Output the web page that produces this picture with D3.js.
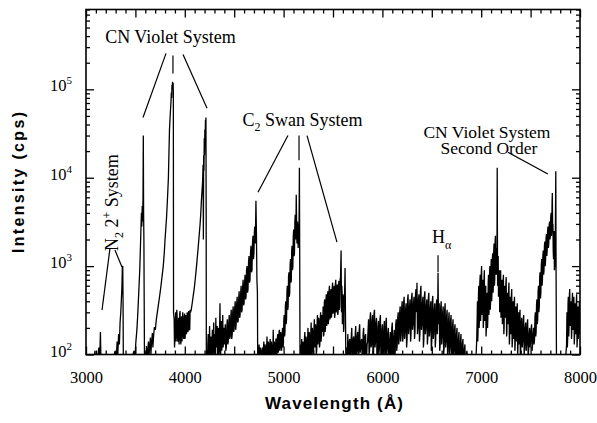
<!DOCTYPE html>
<html>
<head>
<meta charset="utf-8">
<script src="https://cdn.jsdelivr.net/npm/d3@7"></script>
<style>
  body { margin: 0; background: #fff; }
</style>
</head>
<body>
<div id="chart"></div>
<script>
// spectrum, [wavelength (A), intensity (cps)]
// values under 100 cps sit below the axis and get clipped
var n2Band = [
  [3000,70],[3020,85],[3040,70],[3060,95],[3075,70],[3090,110],[3100,75],[3115,90],[3130,120],[3138,80],
  [3146,180],[3152,75],[3170,90],[3190,70],[3210,100],[3225,75],[3240,85],[3260,70],[3280,95],[3295,110],
  [3305,85],[3315,140],[3322,100],[3330,170],[3338,130],[3345,230],[3352,300],[3358,420],[3364,600],[3368,980],
  [3372,1000],[3375,400],[3378,80],[3395,90],[3410,70],[3430,85],[3450,70],[3470,95],[3485,110],[3495,90],[3505,140]
];

var cnBand = [
  [3515,190],[3522,260],[3530,400],[3537,600],[3544,900],[3550,1500],[3556,2600],[3561,4000],[3565,2800],[3569,4800],
  [3573,3200],[3577,6000],[3580,30000],[3583,4000],[3586,2000],[3589,400],[3592,80],
  [3602,90],[3607,70],[3612,125],[3617,80],[3622,100],[3632,140],[3637,90],[3642,115],[3652,155],[3657,100],[3662,130],
  [3672,175],[3677,120],[3682,150],[3692,205],[3702,190],[3712,250],[3722,300],[3732,360],[3742,430],[3752,520],
  [3762,640],[3772,800],[3782,1000],[3792,1400],[3800,2000],[3808,2700],[3815,3500],[3822,5000],[3828,7000],
  [3834,10000],[3840,20000],[3845,35000],[3850,45000],[3855,58000],[3860,72000],[3864,92000],[3867,80000],
  [3870,112000],[3873,100000],[3876,122000],[3879,110000],[3882,118000],[3884,90000],[3886,300],
  [3892,250],[3896,120],[3900,150],[3904,230],[3908,300],[3912,140],[3915,180],[3919,320],[3922,280],[3926,160],
  [3930,140],[3934,220],[3938,260],[3942,130],[3945,170],[3949,290],[3952,310],[3956,150],[3960,130],[3964,240],
  [3968,270],[3972,140],[3975,190],[3979,300],[3982,240],[3986,160],[3990,150],[3994,260],[3998,290],[4002,150],
  [4005,170],[4009,280],[4012,250],[4016,170],[4020,180],[4024,300],[4028,280],[4032,180],[4035,200],[4039,310],
  [4042,260],[4046,190],[4050,190],[4054,320],[4058,300],
  [4065,320],[4075,380],[4085,460],[4095,550],[4105,700],[4115,900],[4125,1200],[4135,1600],[4145,2200],[4155,3000],
  [4162,4000],[4168,5500],[4174,7000],[4180,9000],[4185,14000],[4188,2000],[4191,18000],[4194,12000],[4197,28000],
  [4200,18000],[4203,35000],[4206,25000],[4209,45000],[4212,38000],[4214,48000],[4216,5000],[4218,90]
];

var swanBand = [
  [4224,110],[4230,80],[4233,130],[4237,170],[4241,90],[4244,100],[4251,210],[4254,95],[4258,110],[4265,160],
  [4268,80],[4272,90],[4279,190],[4283,100],[4286,120],[4293,230],[4296,110],[4300,100],[4307,170],[4310,90],
  [4314,260],[4318,120],[4321,130],[4328,210],[4331,100],[4335,120],[4342,200],[4345,95],[4349,110],[4356,380],
  [4360,120],[4363,100],[4370,240],[4374,110],[4377,130],[4384,280],[4388,120],[4391,140],[4395,200],
  [4400,130],[4405,170],[4410,220],[4415,110],[4420,120],[4425,200],[4430,250],[4435,130],[4440,140],[4445,230],
  [4450,280],[4455,150],[4460,160],[4465,260],[4470,320],[4475,150],[4480,170],[4485,300],[4490,350],[4495,180],
  [4500,200],[4505,330],[4510,400],[4515,190],[4520,220],[4525,380],[4530,450],[4535,230],[4540,240],[4545,420],
  [4550,520],[4555,260],[4560,280],[4565,480],[4570,600],[4575,300],[4580,320],[4585,560],[4590,700],[4595,360],
  [4600,380],[4605,650],[4610,800],[4615,420],[4620,450],[4625,900],[4630,1000],[4635,500],[4640,550],[4645,1100],
  [4650,1300],[4655,650],[4660,700],[4665,1400],[4670,1700],[4675,850],[4680,900],[4685,1800],[4690,2200],[4695,1200],
  [4700,1400],[4704,2400],[4708,2800],[4714,1800],[4720,5500],[4725,2400],[4730,700],[4735,500],[4738,80],
  [4745,90],[4749,110],[4752,130],[4756,85],[4760,80],[4764,120],[4768,110],[4772,80],[4776,75],[4780,105],
  [4784,120],[4788,80],[4792,85],[4796,115],[4800,140],[4804,90],[4808,90],[4812,130],[4816,120],[4820,85],
  [4824,80],[4828,120],[4832,160],[4836,90],[4840,100],[4844,140],[4848,130],[4852,85],[4856,90],[4860,130],
  [4864,150],[4868,90],[4872,95],[4876,140],[4880,125],[4884,80],[4888,85],[4892,120],[4895,190],[4899,85],
  [4902,90],[4906,140],[4910,130],[4914,90],[4918,100],[4922,150],[4926,150],[4930,95],[4934,110],[4938,160],
  [4942,170],[4946,105],[4950,120],[4954,180],[4958,190],[4962,110],[4966,120],[4970,180],[4974,160],
  [4980,110],[4985,170],[4990,200],[4994,120],[4998,130],[5002,240],[5006,280],[5010,160],[5014,180],[5018,350],
  [5022,400],[5026,220],[5030,250],[5034,520],[5038,600],[5042,320],[5046,350],[5050,760],[5054,850],[5058,450],
  [5062,500],[5066,1050],[5070,1200],[5074,650],[5078,700],[5082,1500],[5086,1700],[5090,900],[5094,1000],
  [5098,2200],[5102,2600],[5106,1300],[5110,1400],[5114,3200],[5118,3800],[5121,2000],[5124,2200],[5128,6400],
  [5132,3000],[5135,1800],[5138,2200],[5141,3200],[5144,2800],[5147,1600],[5150,1900],[5153,2800],[5156,2400],
  [5160,13000],[5163,1500],[5166,90],
  [5171,130],[5175,100],[5179,85],[5183,150],[5187,95],[5191,85],[5195,140],[5199,130],[5203,80],[5207,95],
  [5211,150],[5215,180],[5219,90],[5223,100],[5227,160],[5231,140],[5235,80],[5239,85],[5243,150],[5247,200],
  [5251,95],[5255,110],[5259,180],[5263,160],[5267,90],[5271,95],[5275,170],[5279,230],[5283,100],[5287,120],
  [5291,200],[5295,170],[5299,95],[5303,100],[5307,190],[5311,250],[5315,120],[5319,130],[5323,220],[5327,200],
  [5331,100],[5335,110],[5339,230],[5343,280],[5347,130],[5351,150],[5355,260],[5359,220],[5363,120],[5367,130],
  [5371,250],[5375,300],[5379,140],[5383,160],[5387,280],
  [5392,180],[5396,200],[5400,350],[5404,160],[5408,170],[5412,380],[5416,420],[5420,180],[5424,200],[5428,400],
  [5432,480],[5436,210],[5440,230],[5444,460],[5448,520],[5452,220],[5456,250],[5460,520],[5464,600],[5468,250],
  [5472,270],[5476,480],[5480,550],[5484,260],[5488,300],[5492,560],[5496,650],[5500,290],[5504,320],[5508,540],
  [5512,600],[5516,260],[5520,280],[5524,620],[5528,700],[5532,300],[5536,330],[5540,580],[5544,620],[5548,280],
  [5552,300],[5556,600],[5560,680],[5564,320],[5568,350],[5572,700],[5576,750],[5582,1500],[5586,300],[5589,600],
  [5592,500],[5595,220],[5598,250],[5601,480],[5604,450],[5607,180],[5610,200],[5613,420],[5616,400],[5622,950],
  [5626,300],[5630,90]
];

var redBand = [
  [5635,100],[5640,120],[5645,85],[5650,170],[5655,100],[5660,95],[5665,140],[5670,150],[5675,90],[5680,100],
  [5685,160],[5690,200],[5695,95],[5700,110],[5705,150],[5710,160],[5715,85],[5720,90],[5725,170],[5730,210],
  [5735,100],[5740,110],[5745,160],[5750,180],[5755,90],[5760,95],[5765,190],[5770,220],[5775,105],[5780,120],
  [5785,140],[5790,150],[5795,85],[5800,90],[5805,170],[5810,200],[5815,95],[5820,100],[5825,160],[5830,170],
  [5835,80],[5840,85],[5845,130],[5850,140],[5855,190],[5860,250],[5865,100],[5870,110],[5875,260],[5880,300],
  [5885,120],[5890,130],[5895,240],[5900,280],[5905,90],[5910,100],[5915,290],[5920,320],[5925,120],[5930,140],
  [5935,230],[5940,260],[5945,85],[5950,95],[5955,200],[5960,240],[5965,100],[5970,120],[5975,250],[5980,280],
  [5985,90],[5990,100],[5995,190],[6000,220],
  [6005,95],[6010,110],[6015,200],[6020,240],[6025,80],[6030,90],[6035,230],[6040,260],[6045,100],[6050,120],
  [6055,170],[6060,200],[6065,75],[6070,85],[6075,150],[6080,180],[6085,90],[6090,100],[6095,200],[6100,230],
  [6105,80],[6110,90],[6115,160],[6120,190],[6125,95],[6130,110],[6135,220],[6140,250],[6145,110],[6150,130],
  [6155,260],[6160,300],[6165,130],[6170,150],[6175,300],[6180,350],[6185,140],[6190,170],[6195,330],
  [6200,400],[6205,140],[6210,160],[6215,390],[6220,450],[6225,150],[6230,180],[6235,320],[6240,380],[6245,120],
  [6250,150],[6255,420],[6260,480],[6265,170],[6270,200],[6275,360],[6280,420],[6285,140],[6290,170],[6295,440],
  [6300,500],[6305,190],[6310,220],[6315,380],[6320,450],[6325,150],[6330,180],[6335,480],[6340,550],[6345,300],
  [6350,650],[6355,170],[6360,200],[6365,420],[6370,480],[6375,140],[6380,170],[6385,520],[6390,600],[6395,190],
  [6400,220],[6405,380],[6410,450],[6415,120],[6420,150],[6425,460],[6430,520],[6435,170],[6440,200],[6445,360],
  [6450,420],[6455,130],[6460,160],[6465,430],[6470,500],[6475,160],[6480,190],[6485,340],[6490,400],[6495,110],
  [6500,140],[6505,400],[6510,460],[6515,150],[6520,180],[6525,320],[6530,380],[6535,120],[6540,150],[6545,360],
  [6550,420],[6555,170],[6558,200],[6563,840],[6568,220],[6572,330],[6575,380],[6580,110],
  [6585,130],[6590,340],[6595,400],[6600,130],[6605,160],[6610,300],[6615,350],[6620,100],[6625,120],[6630,320],
  [6635,380],[6640,120],[6645,140],[6650,270],[6655,320],[6660,90],[6665,110],[6670,250],[6675,300],[6680,100],
  [6685,120],[6690,240],[6695,280],[6700,85],[6705,100],[6710,210],[6715,250],[6720,95],[6725,110],[6730,190],
  [6735,220],[6740,80],[6745,90],[6750,170],[6755,200],[6760,85],[6765,100],[6770,150],[6775,180],[6780,75],
  [6785,85],[6790,140],[6795,170],[6800,70],[6805,80],[6810,130],[6815,150],[6820,70],[6825,80],[6830,115],
  [6835,130],[6840,65],[6845,70],[6850,100],[6855,110],
  [6870,70],[6890,90],[6910,70],[6930,100],[6945,80]
];

var secondOrderBand = [
  [6955,150],[6959,250],[6962,400],[6965,140],[6968,180],[6972,450],[6975,600],[6979,200],[6982,250],[6986,650],
  [6990,800],[6994,240],[6997,300],[7001,850],[7004,1000],[7008,280],[7011,350],[7015,600],[7018,700],[7021,200],
  [7025,250],[7029,750],[7032,900],[7035,240],[7039,300],[7043,500],[7046,600],[7049,160],[7053,200],[7057,420],
  [7060,500],[7064,200],[7067,250],[7071,650],[7074,800],[7078,280],[7081,350],[7085,850],[7088,1000],[7092,320],
  [7095,400],[7099,1000],[7102,1200],[7106,400],[7109,500],[7113,1200],[7116,1400],[7120,500],[7123,600],
  [7127,1500],[7130,1800],[7134,600],[7137,700],[7141,1900],[7144,2200],[7147,800],[7150,900],[7153,1400],
  [7156,1600],[7159,800],[7162,13000],[7166,600],[7169,1000],[7172,1300],[7175,450],[7178,500],[7181,750],[7184,900],
  [7187,300],[7190,350],[7194,750],[7197,900],[7200,260],[7204,300],[7208,600],[7211,700],[7214,220],[7218,250],
  [7222,650],[7225,800],[7229,170],[7232,200],[7236,500],[7239,600],[7243,260],[7246,300],[7250,650],[7253,750],
  [7257,160],[7260,180],[7264,420],[7267,500],[7271,220],[7274,250],[7278,550],[7281,650],[7285,130],[7288,150],
  [7292,380],[7295,450],[7299,170],[7302,200],[7306,480],[7309,550],[7313,120],[7316,140],[7320,340],[7323,400],
  [7327,150],[7330,180],[7334,380],[7337,450],[7341,110],[7344,130],[7348,300],[7351,350],[7355,140],[7358,160],
  [7362,320],[7365,380],[7369,100],[7372,120],[7376,260],[7379,300],[7383,130],[7386,150],[7390,280],[7393,320],
  [7396,95],[7400,110],[7405,230],[7410,260],[7415,120],[7420,140],[7425,240],[7430,280],[7435,100],[7440,120],
  [7445,200],[7450,230],[7455,110],[7460,130],[7465,220],[7470,250],[7475,95],[7480,110],[7485,170],[7490,200],
  [7495,120],[7500,140],[7505,190],[7510,220],[7515,110],[7520,130],[7525,170],[7530,200],[7535,130],
  [7540,150],[7544,260],[7548,300],[7552,160],[7556,180],[7560,360],[7564,420],[7568,220],[7572,250],[7576,520],
  [7580,600],[7584,300],[7588,350],[7592,750],[7596,850],[7600,430],[7604,500],[7608,1000],[7612,1200],[7616,600],
  [7620,700],[7624,1300],[7628,1500],[7632,800],[7636,900],[7640,1700],[7644,1900],[7648,1000],[7652,1200],
  [7656,2000],[7660,2300],[7664,1300],[7668,1500],[7672,2500],[7676,2800],[7680,1600],[7684,1800],[7688,2900],
  [7692,3200],[7696,2000],[7700,2200],[7704,3600],[7708,4000],[7711,2200],[7714,2500],[7717,5000],[7720,6700],
  [7723,2600],[7726,3000],[7729,1500],[7732,1200],[7735,2000],[7738,2500],[7741,900],[7744,1000],[7747,1500],
  [7750,1800],[7755,11800],[7758,800],[7762,80],
  [7770,70],[7790,90],[7810,70],[7830,85],[7850,75],[7860,110],
  [7864,130],[7868,300],[7872,120],[7875,150],[7879,380],[7882,450],[7886,160],[7889,200],[7893,480],[7896,550],
  [7900,210],[7903,250],[7907,350],[7910,400],[7914,150],[7917,180],[7921,420],[7924,500],[7928,190],[7931,220],
  [7935,380],[7938,450],[7942,130],[7945,160],[7949,320],[7952,380],[7956,170],[7959,200],[7963,400],[7966,480],
  [7970,120],[7973,150],[7977,300],[7980,350],[7984,150],[7987,180],[7991,340],[7994,400],[7997,170],[8000,200]
];

// tick labels
var xLabels = [3000, 4000, 5000, 6000, 7000, 8000];
var yDecades = [100, 1000, 10000, 100000];

// leader lines from the labels to the bands, [wavelength, cps] ends
var leaderLines = [
  [[3810, 2.55e5], [3577, 4.8e4]],
  [[3880, 2.42e5], [3880, 1.51e5]],
  [[3982, 2.48e5], [4225, 6.1e4]],
  [[5044, 3.0e4], [4741, 6850]],
  [[5156, 3.0e4], [5156, 15800]],
  [[5237, 3.0e4], [5540, 1870]],
  [[7271, 1.94e4], [7675, 1.1e4]],
  [[3243, 1600], [3162, 318]],
  [[3293, 1520], [3364, 975]],
  [[6563, 1330], [6563, 855]]
];

var spectrum = n2Band.concat(cnBand, swanBand, redBand, secondOrderBand);

// set the dimensions and margins of the graph
var margin = {top: 9.5, right: 17, bottom: 68.5, left: 86},
    width = 597 - margin.left - margin.right,
    height = 423 - margin.top - margin.bottom;

var serif = "'Liberation Serif', 'Times New Roman', serif",
    sans = "'Liberation Sans', Arial, sans-serif";

var svg = d3.select("#chart")
  .append("svg")
    .attr("width", width + margin.left + margin.right)
    .attr("height", height + margin.top + margin.bottom)
  .append("g")
    .attr("transform", "translate(" + margin.left + "," + margin.top + ")");

var x = d3.scaleLinear()
  .domain([3000, 8000])
  .range([0, width]);

var y = d3.scaleLog()
  .domain([100, 8e5])
  .range([height, 0]);

// clip the trace to the frame
svg.append("clipPath")
    .attr("id", "plotClip")
  .append("rect")
    .attr("width", width)
    .attr("height", height);

var line = d3.line()
  .x(function(d) { return x(d[0]); })
  .y(function(d) { return y(Math.max(d[1], 50)); });

svg.append("path")
  .datum(spectrum)
  .attr("clip-path", "url(#plotClip)")
  .attr("fill", "none")
  .attr("stroke", "#000")
  .attr("stroke-width", 1.3)
  .attr("stroke-linejoin", "bevel")
  .attr("d", line);

// ticks, all pointing inward
var majorX = d3.range(3000, 8001, 500),
    minorX = d3.range(3000, 8001, 100).filter(function(d) { return d % 500 !== 0; });

var minorY = [];
yDecades.forEach(function(dec) {
  for (var k = 2; k <= 9; k++) {
    if (k * dec <= 8e5) minorY.push(k * dec);
  }
});

function styleAxis(g) {
  g.select(".domain").remove();
  g.selectAll(".tick line").attr("stroke", "#000").attr("stroke-width", 1.3);
}

svg.append("g")
  .attr("transform", "translate(0," + height + ")")
  .call(d3.axisBottom(x).tickValues(majorX).tickSize(-8).tickPadding(17)
    .tickFormat(function(d) { return xLabels.indexOf(d) >= 0 ? d : ""; }))
  .call(styleAxis)
  .attr("font-family", null)
  .call(function(g) {
    g.selectAll("text")
      .style("font-family", serif)
      .style("font-size", "16.5px")
      .attr("fill", "#000");
  });

svg.append("g")
  .attr("transform", "translate(0," + height + ")")
  .call(d3.axisBottom(x).tickValues(minorX).tickSize(-4).tickFormat(""))
  .call(styleAxis);

svg.append("g")
  .call(d3.axisTop(x).tickValues(majorX).tickSize(-8).tickFormat(""))
  .call(styleAxis);

svg.append("g")
  .call(d3.axisTop(x).tickValues(minorX).tickSize(-4).tickFormat(""))
  .call(styleAxis);

svg.append("g")
  .call(d3.axisLeft(y).tickValues(yDecades).tickSize(-8).tickFormat(""))
  .call(styleAxis);

svg.append("g")
  .call(d3.axisLeft(y).tickValues(minorY).tickSize(-4).tickFormat(""))
  .call(styleAxis);

svg.append("g")
  .attr("transform", "translate(" + width + ",0)")
  .call(d3.axisRight(y).tickValues(yDecades).tickSize(-8).tickFormat(""))
  .call(styleAxis);

svg.append("g")
  .attr("transform", "translate(" + width + ",0)")
  .call(d3.axisRight(y).tickValues(minorY).tickSize(-4).tickFormat(""))
  .call(styleAxis);

// y labels as 10^n
var yLab = svg.selectAll(".ylab")
  .data(yDecades)
  .enter()
  .append("text")
    .attr("class", "ylab")
    .attr("x", -14)
    .attr("y", function(d) { return y(d) + 2; })
    .attr("text-anchor", "end")
    .style("font-family", serif)
    .style("font-size", "16.5px")
    .text("10");
yLab.append("tspan")
  .style("font-size", "11px")
  .attr("dy", -7)
  .text(function(d) { return Math.round(Math.log10(d)); });

// frame
svg.append("rect")
  .attr("width", width)
  .attr("height", height)
  .attr("fill", "none")
  .attr("stroke", "#000")
  .attr("stroke-width", 1.6);

// axis titles
svg.append("text")
  .attr("x", 334 - margin.left)
  .attr("y", height + 54)
  .attr("text-anchor", "middle")
  .style("font-family", sans)
  .style("font-weight", "bold")
  .style("font-size", "17px")
  .attr("textLength", 138)
  .attr("lengthAdjust", "spacing")
  .text("Wavelength  (Å)");

svg.append("text")
  .attr("transform", "translate(-62," + (182.5 - margin.top) + ") rotate(-90)")
  .attr("text-anchor", "middle")
  .style("font-family", sans)
  .style("font-weight", "bold")
  .style("font-size", "16px")
  .attr("textLength", 141)
  .attr("lengthAdjust", "spacing")
  .text("Intensity  (cps)");

// leader lines
svg.selectAll(".leader")
  .data(leaderLines)
  .enter()
  .append("line")
    .attr("class", "leader")
    .attr("x1", function(d) { return x(d[0][0]); })
    .attr("y1", function(d) { return y(d[0][1]); })
    .attr("x2", function(d) { return x(d[1][0]); })
    .attr("y2", function(d) { return y(d[1][1]); })
    .attr("stroke", "#000")
    .attr("stroke-width", 1.2);

// band labels
function label(lam, cps, anchor, size) {
  return svg.append("text")
    .attr("x", x(lam))
    .attr("y", y(cps))
    .attr("text-anchor", anchor)
    .style("font-family", serif)
    .style("font-size", (size || 18) + "px")
    .attr("fill", "#000");
}

label(3855, 3.3e5, "middle").text("CN Violet System");

var swan = label(5191, 3.85e4, "middle").text("C");
swan.append("tspan").style("font-size", "12px").attr("dy", 5).text("2");
swan.append("tspan").attr("dy", -5).text(" Swan System");

label(7058, 2.81e4, "middle", 17.5).text("CN Violet System");
label(7078, 1.85e4, "middle", 17.5).text("Second Order");

var ha = label(6502, 1820, "start").text("H");
ha.append("tspan").style("font-size", "12px").attr("dy", 6).text("α");

var n2 = svg.append("text")
  .attr("transform", "translate(" + x(3324) + "," + y(1480) + ") rotate(-90)")
  .style("font-family", serif)
  .style("font-size", "18px")
  .text("N");
n2.append("tspan").style("font-size", "12px").attr("dy", 5).text("2");
n2.append("tspan").attr("dy", -5).text(" 2");
n2.append("tspan").style("font-size", "12px").attr("dy", -7).text("+");
n2.append("tspan").attr("dy", 7).text(" System");
</script>
</body>
</html>
